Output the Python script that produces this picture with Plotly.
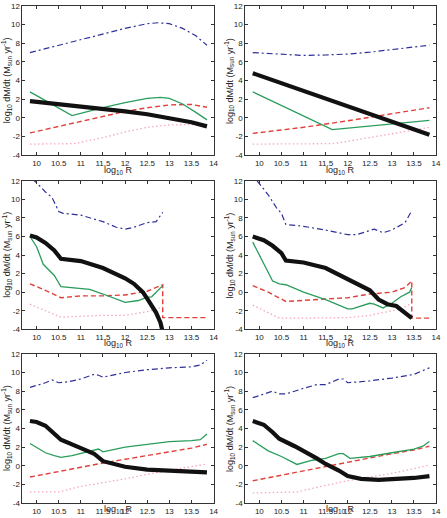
import plotly.graph_objects as go

# ---------------- data (log10 R, log10 dM/dt) ----------------
# Panel 1 (top-left)
p1_blue_x = [9.85, 10.5, 11.0, 11.5, 12.0, 12.5, 12.75, 13.0, 13.3, 13.6, 13.85]
p1_blue_y = [7.0, 7.8, 8.4, 9.0, 9.6, 10.1, 10.2, 10.1, 9.6, 8.8, 7.8]
p1_black_x = [9.85, 10.5, 11.0, 11.5, 12.0, 12.5, 13.0, 13.5, 13.85]
p1_black_y = [1.8, 1.5, 1.2, 0.95, 0.7, 0.4, 0.0, -0.45, -0.9]
p1_green_x = [9.85, 10.8, 11.5, 12.0, 12.5, 12.8, 13.0, 13.3, 13.6, 13.85]
p1_green_y = [2.8, 0.25, 1.1, 1.65, 2.1, 2.2, 2.1, 1.5, 0.6, -0.2]
p1_red_x = [9.85, 10.5, 11.0, 11.5, 12.0, 12.5, 13.0, 13.5, 13.85]
p1_red_y = [-1.6, -0.9, -0.4, 0.2, 0.7, 1.1, 1.4, 1.45, 1.15]
p1_pink_x = [9.85, 10.5, 10.85, 11.5, 12.0, 12.5, 13.0, 13.5, 13.85]
p1_pink_y = [-2.8, -2.8, -2.75, -2.1, -1.5, -1.0, -0.75, -0.7, -0.8]

# Panel 2 (top-right)
p2_blue_x = [9.85, 10.5, 11.0, 11.5, 12.0, 12.5, 13.0, 13.5, 13.85]
p2_blue_y = [7.0, 6.8, 6.7, 6.75, 6.85, 7.05, 7.3, 7.6, 7.8]
p2_black_x = [9.85, 13.85]
p2_black_y = [4.8, -1.8]
p2_green_x = [9.85, 11.65, 13.85]
p2_green_y = [2.8, -1.25, -0.25]
p2_red_x = [9.85, 11.0, 12.0, 13.0, 13.85]
p2_red_y = [-1.65, -1.0, -0.3, 0.45, 1.1]
p2_pink_x = [9.85, 11.0, 11.65, 12.0, 12.5, 13.0, 13.5, 13.85]
p2_pink_y = [-2.8, -2.8, -2.75, -2.5, -2.1, -1.7, -1.3, -1.0]

# Panel 3 (middle-left)
p3_blue_x = [9.9, 10.0, 10.2, 10.35, 10.5, 10.6, 11.0, 11.5, 11.8, 12.0, 12.2, 12.5, 12.7, 12.85]
p3_blue_y = [12.2, 11.8, 10.8, 10.2, 8.7, 8.5, 8.3, 7.6, 7.0, 6.8, 7.0, 7.5, 7.6, 8.6]
p3_black_x = [9.85, 10.0, 10.2, 10.4, 10.55, 10.7, 11.0, 11.5, 12.0, 12.2, 12.4, 12.5, 12.6, 12.7, 12.8, 12.85]
p3_black_y = [6.1, 5.9, 5.3, 4.5, 3.6, 3.5, 3.35, 2.6, 1.5, 0.9, 0.0, -0.7, -1.4, -2.2, -3.3, -4.3]
p3_green_x = [9.85, 10.0, 10.15, 10.4, 10.55, 10.8, 11.2, 11.5, 12.0, 12.3, 12.5, 12.6, 12.85]
p3_green_y = [6.0, 4.9, 3.0, 1.8, 0.6, 0.5, 0.3, -0.2, -1.1, -0.9, -0.55, -0.5, 0.7]
p3_red_x = [9.85, 10.2, 10.55, 11.0, 11.5, 12.0, 12.5, 12.85, 12.85, 13.85]
p3_red_y = [0.9, 0.2, -0.6, -0.4, -0.4, -0.3, 0.1, 0.8, -2.75, -2.75]
p3_pink_x = [9.85, 10.2, 10.55, 11.0, 11.5, 12.0, 12.5, 12.85]
p3_pink_y = [-1.3, -2.0, -2.7, -2.6, -2.5, -2.5, -2.1, -1.6]

# Panel 4 (middle-right)
p4_blue_x = [9.95, 10.2, 10.4, 10.5, 10.6, 11.0, 11.5, 12.0, 12.2, 12.5, 12.6, 12.8, 13.0, 13.3, 13.45]
p4_blue_y = [12.0, 10.5, 9.0, 8.5, 7.3, 7.1, 6.7, 6.2, 6.2, 6.7, 6.8, 6.4, 6.7, 7.5, 8.8]
p4_black_x = [9.85, 10.1, 10.3, 10.5, 10.6, 11.0, 11.5, 12.0, 12.5, 12.7, 12.9, 13.1, 13.3, 13.45]
p4_black_y = [6.0, 5.6, 5.0, 4.2, 3.4, 3.2, 2.6, 1.4, 0.2, -0.8, -1.3, -1.5, -2.3, -2.8]
p4_green_x = [9.85, 10.0, 10.3, 10.45, 10.6, 11.0, 11.5, 12.0, 12.1, 12.5, 12.6, 12.8, 13.0, 13.2, 13.4, 13.45]
p4_green_y = [5.4, 4.0, 1.2, 0.9, 0.8, 0.0, -0.8, -1.8, -1.8, -1.2, -1.3, -1.7, -1.2, -0.5, 0.0, 0.5]
p4_red_x = [9.85, 10.2, 10.6, 11.0, 11.5, 12.0, 12.5, 13.0, 13.3, 13.45, 13.45, 13.85]
p4_red_y = [0.7, 0.0, -1.0, -0.9, -0.7, -0.6, -0.2, 0.0, 0.5, 1.2, -2.8, -2.8]
p4_pink_x = [9.85, 10.2, 10.45, 11.0, 12.0, 12.5, 12.8, 13.2, 13.45]
p4_pink_y = [-1.4, -2.2, -2.8, -2.8, -2.75, -2.5, -2.2, -1.8, -1.2]

# Panel 5 (bottom-left)
p5_blue_x = [9.85, 10.2, 10.35, 10.5, 10.7, 11.0, 11.3, 11.4, 11.5, 12.0, 12.5, 13.0, 13.5, 13.7, 13.85]
p5_blue_y = [8.4, 8.9, 9.2, 8.9, 9.0, 9.3, 9.8, 9.7, 9.5, 10.0, 10.3, 10.5, 10.6, 10.8, 11.3]
p5_black_x = [9.85, 10.0, 10.2, 10.4, 10.55, 11.0, 11.3, 11.5, 12.0, 12.5, 13.0, 13.5, 13.85]
p5_black_y = [4.8, 4.7, 4.3, 3.5, 2.8, 1.9, 1.3, 0.5, -0.1, -0.4, -0.55, -0.65, -0.7]
p5_green_x = [9.85, 10.2, 10.4, 10.55, 10.8, 11.2, 11.4, 11.5, 12.0, 12.5, 13.0, 13.5, 13.7, 13.85]
p5_green_y = [2.4, 1.4, 1.1, 0.9, 1.1, 1.6, 1.8, 1.5, 2.0, 2.3, 2.6, 2.7, 2.8, 3.4]
p5_red_x = [9.85, 10.5, 11.0, 11.5, 12.0, 12.5, 13.0, 13.5, 13.85]
p5_red_y = [-1.2, -0.6, -0.2, 0.3, 0.7, 1.1, 1.5, 1.9, 2.3]
p5_pink_x = [9.85, 10.5, 11.0, 11.5, 12.0, 12.5, 13.0, 13.5, 13.85]
p5_pink_y = [-2.8, -2.8, -2.2, -1.8, -1.4, -0.9, -0.5, -0.1, 0.2]

# Panel 6 (bottom-right)
p6_blue_x = [9.85, 10.1, 10.3, 10.45, 10.6, 11.0, 11.3, 11.5, 11.8, 11.9, 12.0, 12.5, 13.0, 13.5, 13.85]
p6_blue_y = [7.3, 7.7, 8.0, 7.7, 7.7, 8.3, 8.7, 8.7, 9.3, 9.3, 8.9, 9.1, 9.4, 9.8, 10.5]
p6_black_x = [9.85, 10.1, 10.3, 10.45, 10.8, 11.0, 11.3, 11.5, 11.8, 12.0, 12.3, 12.7, 13.0, 13.5, 13.85]
p6_black_y = [4.8, 4.4, 3.6, 2.9, 2.1, 1.6, 0.8, 0.2, -0.5, -1.1, -1.4, -1.5, -1.45, -1.3, -1.1]
p6_green_x = [9.85, 10.2, 10.5, 10.85, 11.2, 11.5, 11.8, 11.9, 12.05, 12.5, 13.0, 13.5, 13.7, 13.85]
p6_green_y = [2.7, 1.6, 1.0, 0.15, 0.6, 0.8, 1.3, 1.3, 0.8, 1.0, 1.4, 1.8, 2.1, 2.6]
p6_red_x = [9.85, 10.5, 10.85, 11.5, 12.0, 12.5, 13.0, 13.5, 13.85]
p6_red_y = [-1.6, -1.0, -0.7, -0.1, 0.4, 0.8, 1.3, 1.7, 2.1]
p6_pink_x = [9.85, 10.85, 11.5, 12.0, 12.5, 13.0, 13.5, 13.85]
p6_pink_y = [-2.9, -2.8, -2.1, -1.6, -1.2, -0.8, -0.3, 0.1]

x_ticks = [10, 10.5, 11, 11.5, 12, 12.5, 13, 13.5, 14]
x_tick_labels = ["10", "10.5", "11", "11.5", "12", "12.5", "13", "13.5", "14"]
y_ticks = [-4, -2, 0, 2, 4, 6, 8, 10, 12]
y_tick_labels = ["-4", "-2", "0", "2", "4", "6", "8", "10", "12"]

panels = [
    (p1_blue_x, p1_blue_y, p1_black_x, p1_black_y, p1_green_x, p1_green_y, p1_red_x, p1_red_y, p1_pink_x, p1_pink_y),
    (p2_blue_x, p2_blue_y, p2_black_x, p2_black_y, p2_green_x, p2_green_y, p2_red_x, p2_red_y, p2_pink_x, p2_pink_y),
    (p3_blue_x, p3_blue_y, p3_black_x, p3_black_y, p3_green_x, p3_green_y, p3_red_x, p3_red_y, p3_pink_x, p3_pink_y),
    (p4_blue_x, p4_blue_y, p4_black_x, p4_black_y, p4_green_x, p4_green_y, p4_red_x, p4_red_y, p4_pink_x, p4_pink_y),
    (p5_blue_x, p5_blue_y, p5_black_x, p5_black_y, p5_green_x, p5_green_y, p5_red_x, p5_red_y, p5_pink_x, p5_pink_y),
    (p6_blue_x, p6_blue_y, p6_black_x, p6_black_y, p6_green_x, p6_green_y, p6_red_x, p6_red_y, p6_pink_x, p6_pink_y),
]

# ---------------- layout ----------------
W, H = 447, 518
col_px = [(22.7, 216.0), (248.0, 441.0)]
row_px = [(2.0, 154.0), (180.0, 331.0), (356.0, 508.0)]
xtitle_px = [169.0, 346.0, 514.0]

FONT = "Liberation Sans, Arial, sans-serif"
fig = go.Figure()

styles = [
    dict(color="#2f2f9a", width=1.2, dash="6px,3px,2px,3px"),   # blue dash-dot
    dict(color="#111111", width=4.2, dash="solid"),             # black
    dict(color="#2a9d5c", width=1.3, dash="solid"),             # green
    dict(color="#e0403a", width=1.4, dash="5px,3px"),           # red dashed
    dict(color="#f4a9bb", width=1.3, dash="1.5px,2.5px"),       # pink dotted
]
draw_order = [4, 3, 0, 2, 1]

annotations = []
for i, pdata in enumerate(panels):
    r, c = divmod(i, 2)
    n = i + 1
    xa = "x" if n == 1 else f"x{n}"
    ya = "y" if n == 1 else f"y{n}"
    for k in draw_order:
        fig.add_trace(go.Scatter(
            x=pdata[2 * k], y=pdata[2 * k + 1], mode="lines",
            line=styles[k], xaxis=xa, yaxis=ya, showlegend=False,
            hoverinfo="skip"))
    x0, x1 = col_px[c]
    y0, y1 = row_px[r]
    axis_common = dict(showline=True, linecolor="#333", linewidth=1, mirror="ticks",
                       ticks="inside", ticklen=3, tickcolor="#333", showgrid=False,
                       zeroline=False, tickfont=dict(family=FONT, size=8, color="#222"))
    fig.update_layout(**{
        ("xaxis" if n == 1 else f"xaxis{n}"): dict(
            domain=[x0 / W, x1 / W], range=[9.68, 14], anchor=ya,
            tickvals=x_ticks, ticktext=x_tick_labels, **axis_common),
        ("yaxis" if n == 1 else f"yaxis{n}"): dict(
            domain=[1 - y1 / H, 1 - y0 / H], range=[-4, 12], anchor=xa,
            tickvals=y_ticks, ticktext=y_tick_labels, **axis_common),
    })
    annotations.append(dict(
        text="log<sub>10</sub> R", xref="paper", yref="paper",
        x=(x0 + x1) / 2 / W, y=1 - xtitle_px[r] / H, showarrow=False,
        font=dict(family=FONT, size=9, color="#222"), xanchor="center", yanchor="middle"))
    annotations.append(dict(
        text="log<sub>10</sub> dM/dt (M<sub>sun</sub> yr<sup>-1</sup>)",
        xref="paper", yref="paper",
        x=(x0 - 16) / W, y=1 - (y0 + y1) / 2 / H, showarrow=False, textangle=-90,
        font=dict(family=FONT, size=9, color="#222"), xanchor="center", yanchor="middle"))

fig.update_layout(
    width=W, height=H, margin=dict(l=0, r=0, t=0, b=0),
    paper_bgcolor="white", plot_bgcolor="white",
    annotations=annotations,
)

fig.write_html("out.html")
